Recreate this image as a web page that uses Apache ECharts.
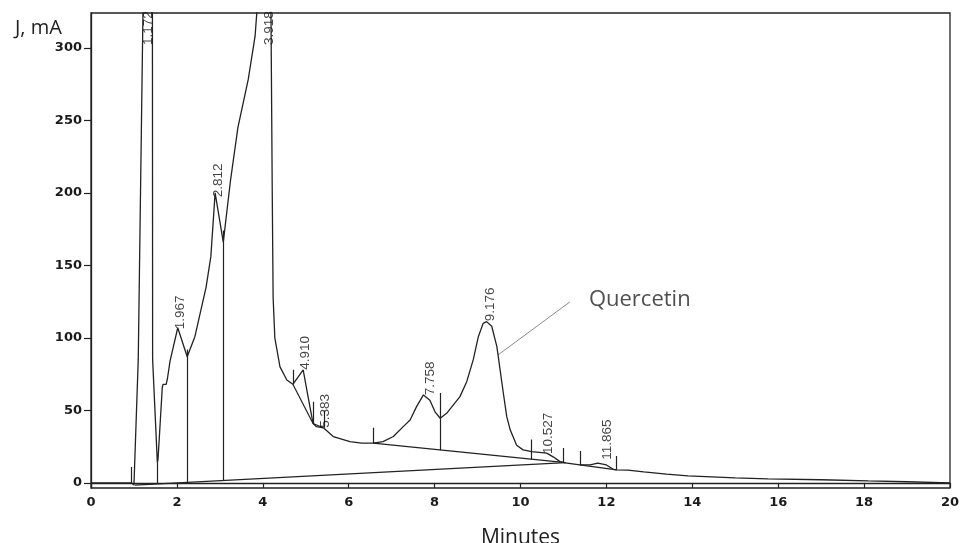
<!DOCTYPE html>
<html><head><meta charset="utf-8">
<script src="https://cdn.jsdelivr.net/npm/echarts@6/dist/echarts.min.js"></script>
<style>html,body{margin:0;padding:0;background:#fff}#c{width:961px;height:543px}</style>
</head><body><div id="c"></div>
<script>
// ---- data ----
const xTickLabels = [0, 2, 4, 6, 8, 10, 12, 14, 16, 18, 20];
const yTickLabels = [0, 50, 100, 150, 200, 250, 300];
const xRange = [0, 20];
const yRange = [-3.5, 324];

// detector trace [minutes, mA]
const trace = [
  [0, 0], [0.5, 0], [0.95, 0], [1.0, -1.5], [1.03, -2.5], [1.1, 85], [1.21, 325], [1.24, 420],
  [1.41, 420], [1.43, 325], [1.435, 85], [1.545, 14], [1.56, 16], [1.66, 66], [1.68, 68], [1.75, 68],
  [1.78, 72], [1.84, 84], [2.02, 107], [2.24, 87], [2.42, 101], [2.68, 135], [2.79, 156],
  [2.89, 200], [3.08, 166], [3.25, 209], [3.42, 245], [3.66, 278], [3.82, 308], [3.87, 328],
  [3.92, 420], [4.17, 420], [4.19, 325], [4.22, 200], [4.24, 128], [4.28, 100], [4.4, 80],
  [4.56, 71], [4.7, 68], [4.94, 78], [5.05, 60], [5.17, 41], [5.25, 38.8], [5.41, 38],
  [5.64, 32], [6.03, 28.5], [6.3, 27.5], [6.57, 27.4], [6.8, 28.5], [7.04, 32], [7.27, 38.8],
  [7.43, 43.4], [7.58, 52.6], [7.74, 60.7], [7.89, 57], [8.01, 49], [8.13, 44.6], [8.28, 48],
  [8.59, 59.5], [8.75, 70], [8.9, 85], [9.02, 101], [9.13, 110], [9.21, 111.2], [9.33, 108],
  [9.45, 94], [9.6, 62], [9.68, 45.7], [9.76, 36.6], [9.91, 26], [10.06, 22.8], [10.26, 21.6],
  [10.61, 20.5], [10.76, 18], [10.92, 14.7], [11.04, 13.8], [11.38, 12.4], [11.62, 12.4],
  [11.8, 13.6], [12.0, 12.4], [12.16, 9.4], [12.24, 9.0], [12.5, 8.8], [12.87, 7.6], [13.4, 6],
  [13.9, 4.8], [15.0, 3.5], [15.76, 2.8], [17.0, 2.2], [18.1, 1.4], [19.0, 0.8], [20, 0]
];

// integration baselines [[t1, y1], [t2, y2]]
const baselines = [
  [[1.02, -1.5], [11.05, 14]],
  [[4.7, 68], [5.17, 41]],
  [[5.17, 41], [5.41, 38]],
  [[6.57, 27.4], [11.05, 14]],
  [[11.38, 12.4], [12.24, 9.0]]
];

// vertical event / drop marks [t, fromY, toY]
const eventMarks = [
  [0.93, 0, 11],
  [1.545, -0.7, 14],
  [2.24, 0.3, 92],
  [3.08, 1.6, 174],
  [4.72, 68, 78],
  [5.18, 41, 56],
  [5.42, 38, 50],
  [6.57, 27.4, 38],
  [8.13, 22.5, 62],
  [10.26, 16.2, 30],
  [11.0, 14.2, 24],
  [11.38, 12.4, 22],
  [12.24, 9.0, 18.6]
];

// retention-time labels [t, y, text]
const peakLabels = [
  [1.33, 302, '1.172'],
  [2.07, 106, '1.967'],
  [2.96, 197, '2.812'],
  [4.14, 302, '3.918'],
  [4.98, 78, '4.910'],
  [5.45, 38, '5.383'],
  [7.89, 60.5, '7.758'],
  [9.29, 111.5, '9.176'],
  [10.64, 20, '10.527'],
  [12.01, 16, '11.865']
];

const quercetinPointer = [[9.48, 88.3], [11.15, 124.8]];
const quercetinName = 'Quercetin';

const ink = '#222';
const chart = echarts.init(document.getElementById('c'), null, {renderer: 'canvas'});

const dropLines = eventMarks.map(m => ({coords: [[m[0], m[1]], [m[0], m[2]]]}));
const baseLines = baselines.map(b => ({coords: b}));

chart.setOption({
  animation: false,
  backgroundColor: '#fff',
  title: {
    text: 'J, mA', left: 10, top: 13,
    textStyle: {fontFamily: 'Open Sans', fontSize: 20, fontWeight: 'normal', color: '#222'}
  },
  grid: {
    left: 91, right: 11, top: 13, bottom: 55, containLabel: false, outerBoundsMode: 'none',
    show: true, borderColor: ink, borderWidth: 1.3, backgroundColor: 'transparent'
  },
  xAxis: {
    type: 'value', min: xRange[0], max: xRange[1], interval: 2,
    name: 'Minutes', nameLocation: 'middle', nameGap: 40,
    nameTextStyle: {fontFamily: 'Open Sans', fontSize: 21, color: '#222'},
    axisLine: {show: true, lineStyle: {color: ink, width: 1.3}},
    axisTick: {show: true, inside: false, length: 5, lineStyle: {color: ink, width: 1.2}},
    axisLabel: {
      margin: 8, color: '#1a1a1a', fontFamily: 'DejaVu Sans', fontWeight: 'bold', fontSize: 13,
      customValues: xTickLabels
    },
    splitLine: {show: false}
  },
  yAxis: {
    type: 'value', min: yRange[0], max: yRange[1],
    axisLine: {show: true, lineStyle: {color: ink, width: 1.3}},
    axisTick: {show: true, inside: false, length: 7, lineStyle: {color: ink, width: 1.2}, customValues: yTickLabels},
    axisLabel: {
      margin: 9, color: '#1a1a1a', fontFamily: 'DejaVu Sans', fontWeight: 'bold', fontSize: 13,
      customValues: yTickLabels
    },
    splitLine: {show: false}
  },
  series: [
    {
      type: 'line', data: trace, showSymbol: false, symbol: 'none', clip: true,
      lineStyle: {color: ink, width: 1.3}, z: 3
    },
    {
      type: 'lines', coordinateSystem: 'cartesian2d', data: baseLines, clip: true,
      lineStyle: {color: ink, width: 1.2, opacity: 1}, z: 2
    },
    {
      type: 'lines', coordinateSystem: 'cartesian2d', data: dropLines, clip: true,
      lineStyle: {color: ink, width: 1.2, opacity: 1}, z: 2
    },
    {
      type: 'lines', coordinateSystem: 'cartesian2d', data: [{coords: quercetinPointer}],
      lineStyle: {color: '#8a8a8a', width: 1, opacity: 1}, z: 2
    },
    {
      type: 'scatter', symbolSize: 0, z: 4,
      data: [{value: quercetinPointer[1], name: quercetinName}],
      label: {
        show: true, position: 'right', distance: 19, offset: [0, -2],
        formatter: p => p.name,
        fontFamily: 'Open Sans', fontSize: 22, color: '#222'
      }
    },
    {
      type: 'scatter', symbolSize: 0, z: 4,
      data: peakLabels.map(p => ({value: [p[0], p[1]], name: p[2]})),
      label: {
        show: true, position: 'inside', rotate: 90, align: 'left', verticalAlign: 'middle',
        formatter: p => p.name,
        fontFamily: '"Liberation Sans Narrow", "Arial Narrow", "Liberation Sans", sans-serif',
        fontSize: 13.5, color: '#111'
      }
    }
  ]
});
</script>
</body></html>
